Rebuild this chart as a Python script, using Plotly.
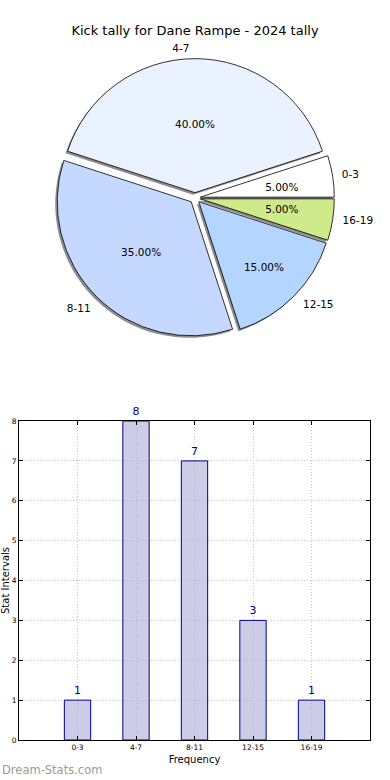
import plotly.graph_objects as go

# ---- data ----
categories = ["0-3", "4-7", "8-11", "12-15", "16-19"]
counts = [1, 8, 7, 3, 1]
slice_colors = ["#FFFFFF", "#EAF1FF", "#C5D8FF", "#B3D5FF", "#CFEA8A"]
title_text = "Kick tally for Dane Rampe - 2024 tally"
y_ticks = [0, 1, 2, 3, 4, 5, 6, 7, 8]

W, H = 390, 780
FONT = "DejaVu Sans"

def px_dom_x(x0, x1):
    return [x0 / W, x1 / W]

def px_dom_y(y0, y1):  # y0 top px, y1 bottom px
    return [1 - y1 / H, 1 - y0 / H]

cx, cy = 195, 198
R = 134  # pie radius
pull = 0.04
box = R * (1 + pull)
ROT = 72

common_pie = dict(labels=categories, values=counts, sort=False,
                  direction="counterclockwise", showlegend=False)

fig = go.Figure()

# shadow pie
fig.add_trace(go.Pie(
    **common_pie, rotation=ROT, pull=[pull] * 5,
    marker=dict(colors=["rgba(80,80,80,0.65)"] * 5, line=dict(width=0)),
    textinfo="none", hoverinfo="skip",
    domain=dict(x=px_dom_x(cx - box - 2, cx + box - 2), y=px_dom_y(cy - box + 2, cy + box + 2)),
))

# main pie (percent inside on the large slices)
fig.add_trace(go.Pie(
    **common_pie, rotation=ROT, pull=[pull] * 5,
    marker=dict(colors=slice_colors, line=dict(color="black", width=0.8)),
    texttemplate="%{percent:.2%}",
    textposition=["none", "inside", "inside", "inside", "none"],
    insidetextorientation="horizontal",
    textfont=dict(family=FONT, size=10.5, color="black"),
    domain=dict(x=px_dom_x(cx - box, cx + box), y=px_dom_y(cy - box, cy + box)),
))

# category labels (transparent pie, outside text)
RL = 146
fig.add_trace(go.Pie(
    **common_pie, rotation=ROT - 1, pull=[0] * 5,
    marker=dict(colors=["rgba(0,0,0,0)"] * 5, line=dict(width=0)),
    textinfo="label", textposition="outside",
    textfont=dict(family=FONT, size=10.5, color="black"),
    hoverinfo="skip",
    domain=dict(x=px_dom_x(cx - RL, cx + RL), y=px_dom_y(cy - RL + 2, cy + RL + 2)),
))

# percentage labels for the thin slices (small transparent pie, outside text)
r2 = 68
fig.add_trace(go.Pie(
    **common_pie, rotation=ROT, pull=[0] * 5,
    marker=dict(colors=["rgba(0,0,0,0)"] * 5, line=dict(width=0)),
    texttemplate="%{percent:.2%}",
    textposition=["outside", "none", "none", "none", "outside"],
    textfont=dict(family=FONT, size=10.5, color="black"),
    hoverinfo="skip",
    domain=dict(x=px_dom_x(cx - r2, cx + r2), y=px_dom_y(cy - r2, cy + r2)),
))

# bar chart
fig.add_trace(go.Bar(
    x=categories, y=counts, width=0.45,
    marker=dict(color="rgba(170,170,213,0.6)", line=dict(color="#00008B", width=1)),
    text=[str(c) for c in counts], textposition="outside", cliponaxis=False,
    textfont=dict(family=FONT, size=11, color="#00008B"),
    showlegend=False, xaxis="x", yaxis="y",
))

axis_common = dict(
    showline=True, linecolor="black", linewidth=1, mirror="ticks",
    ticks="inside", ticklen=4, tickcolor="black", automargin=False,
    showgrid=True, gridcolor="#c4c4c4", griddash="1px,2px", gridwidth=1,
    zeroline=False, tickfont=dict(family=FONT, size=7.5, color="black"),
)

fig.update_layout(
    width=W, height=H,
    margin=dict(l=0, r=0, t=0, b=0, autoexpand=False),
    paper_bgcolor="white", plot_bgcolor="white",
    title=dict(text=title_text, x=0.5, xanchor="center", y=1 - 30 / H, yanchor="middle",
               yref="container", font=dict(family=FONT, size=13, color="black")),
    xaxis=dict(domain=px_dom_x(19, 370), range=[-1, 5], type="category",
               title=dict(text="Frequency", font=dict(family=FONT, size=10, color="black"), standoff=4),
               **axis_common),
    yaxis=dict(domain=px_dom_y(421, 740), range=[0, 8], tickvals=y_ticks,
               title=dict(text="Stat Intervals", font=dict(family=FONT, size=10, color="black"), standoff=2),
               **axis_common),
    annotations=[dict(text="Dream-Stats.com", x=0, y=10 / H, xref="paper", yref="paper",
                      xanchor="left", yanchor="middle", showarrow=False,
                      font=dict(family=FONT, size=11.5, color="#9a9a9a"))],
)

fig.write_html("out.html", config={"displayModeBar": False},
               post_script="document.body.style.margin='0';")
